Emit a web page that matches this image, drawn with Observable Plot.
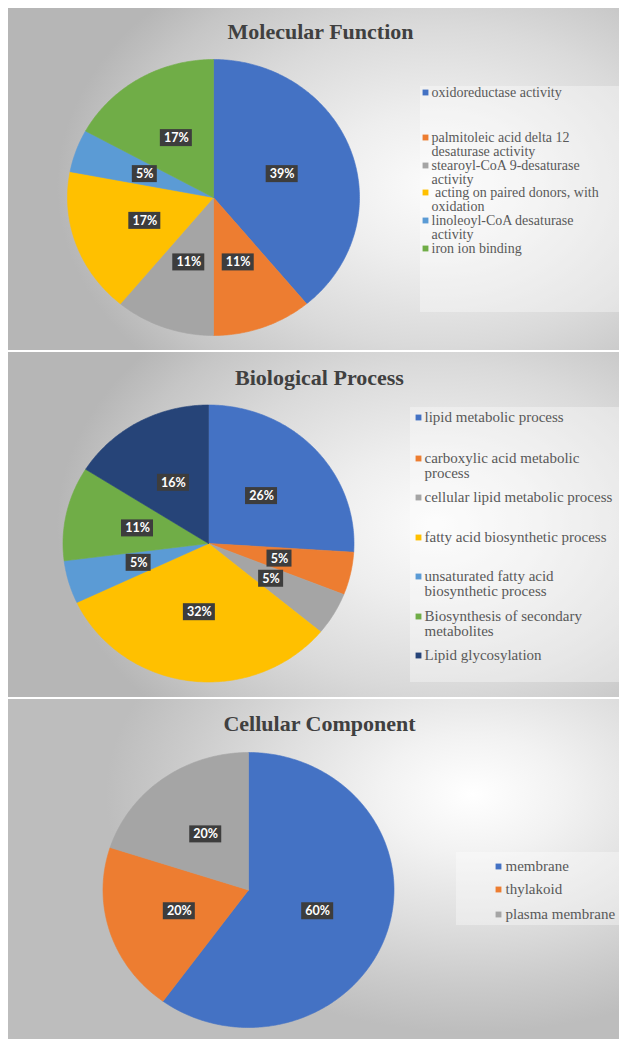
<!DOCTYPE html>
<html>
<head>
<meta charset="utf-8">
<script src="https://cdn.jsdelivr.net/npm/d3@7"></script>
<script src="https://cdn.jsdelivr.net/npm/@observablehq/plot@0.6"></script>
<style>
  html, body { margin: 0; padding: 0; background: #fff; }
  body { position: relative; width: 619px; height: 1039px; overflow: hidden; }
  .panel { position: absolute; left: 8px; width: 611px; overflow: hidden; }
  .panel svg { position: absolute; left: 0; top: 0; }
  #p1 { top: 8px; height: 342px;
    background: radial-gradient(ellipse 62% 78% at 70% 52%, #fbfbfb 0%, #eeeeee 28%, #dadada 60%, #c6c6c6 85%, #b6b6b6 100%); }
  #p2 { top: 352px; height: 345px;
    background: radial-gradient(ellipse 62% 78% at 70% 50%, #fbfbfb 0%, #eeeeee 28%, #dadada 60%, #c6c6c6 85%, #b6b6b6 100%); }
  #p3 { top: 699px; height: 340px;
    background: radial-gradient(ellipse 60% 70% at 76% 28%, #ffffff 0%, #f2f2f2 25%, #dedede 55%, #cbcbcb 80%, #bdbdbd 100%); }
</style>
</head>
<body>
<div id="p1" class="panel"></div>
<div id="p2" class="panel"></div>
<div id="p3" class="panel"></div>
<script>
// Molecular Function
const mfCategories = [
  "oxidoreductase activity",
  "palmitoleic acid delta 12 desaturase activity",
  "stearoyl-CoA 9-desaturase activity",
  "\u00a0acting on paired donors, with oxidation",
  "linoleoyl-CoA desaturase activity",
  "iron ion binding"
];
const mfValues = [39, 11, 11, 17, 5, 17];
const mfLegendLines = [
  ["oxidoreductase activity"],
  ["palmitoleic acid delta 12", "desaturase activity"],
  ["stearoyl-CoA 9-desaturase", "activity"],
  ["\u00a0acting on paired donors, with", "oxidation"],
  ["linoleoyl-CoA desaturase", "activity"],
  ["iron ion binding"]
];

// Biological Process
const bpCategories = [
  "lipid metabolic process",
  "carboxylic acid metabolic process",
  "cellular lipid metabolic process",
  "fatty acid biosynthetic process",
  "unsaturated fatty acid biosynthetic process",
  "Biosynthesis of secondary metabolites",
  "Lipid glycosylation"
];
const bpValues = [26, 5, 5, 32, 5, 11, 16];
const bpLegendLines = [
  ["lipid metabolic process"],
  ["carboxylic acid metabolic", "process"],
  ["cellular lipid metabolic process"],
  ["fatty acid biosynthetic process"],
  ["unsaturated fatty acid", "biosynthetic process"],
  ["Biosynthesis of secondary", "metabolites"],
  ["Lipid glycosylation"]
];

// Cellular Component
const ccCategories = ["membrane", "thylakoid", "plasma membrane"];
const ccValues = [60, 20, 20];
const ccLegendLines = [["membrane"], ["thylakoid"], ["plasma membrane"]];

// Office-style slice palette
const palette = ["#4472C4", "#ED7D31", "#A5A5A5", "#FFC000", "#5B9BD5", "#70AD47", "#264478"];

// Panel layout (pixels within each panel)
const panels = [
  { el: "#p1", title: "Molecular Function", categories: mfCategories, values: mfValues, legend: mfLegendLines,
    width: 611, height: 342, cx: 205, cy: 189, rx: 146, ry: 138,
    titleX: 312, titleY: 23,
    legendRows: [84, 129, 157, 184, 212, 240], lineStep: 13.7, legendFont: 14,
    squareX: 417, textX: 423, box: [412, 78, 611, 304] },
  { el: "#p2", title: "Biological Process", categories: bpCategories, values: bpValues, legend: bpLegendLines,
    width: 611, height: 345, cx: 200, cy: 191, rx: 145.5, ry: 138.5,
    titleX: 311, titleY: 25,
    legendRows: [65, 106, 145, 185, 224, 264, 303], lineStep: 15, legendFont: 15,
    squareX: 410, textX: 416, box: [402, 55, 611, 330] },
  { el: "#p3", title: "Cellular Component", categories: ccCategories, values: ccValues, legend: ccLegendLines,
    width: 611, height: 340, cx: 240, cy: 190.5, rx: 145.5, ry: 137.5,
    titleX: 311, titleY: 24,
    legendRows: [167, 190, 215], lineStep: 15, legendFont: 15,
    squareX: 490, textX: 497, box: [448, 153, 611, 226] }
];

function drawPanel(p) {
  const fx = (px) => (px - p.cx) / p.rx;   // panel pixel -> pie unit x
  const fy = (py) => (p.cy - py) / p.ry;   // panel pixel -> pie unit y

  const arcs = d3.pie().sort(null).startAngle(0).endAngle(2 * Math.PI)(p.values);

  // slice outlines as closed polygons in unit coordinates (0 rad = 12 o'clock, clockwise)
  const outline = [];
  arcs.forEach((a, i) => {
    const cat = p.categories[i];
    outline.push({ cat, x: 0, y: 0 });
    const n = Math.max(4, Math.ceil((a.endAngle - a.startAngle) / (Math.PI / 240)));
    for (let k = 0; k <= n; k++) {
      const t = a.startAngle + (a.endAngle - a.startAngle) * k / n;
      outline.push({ cat, x: Math.sin(t), y: Math.cos(t) });
    }
    outline.push({ cat, x: 0, y: 0 });
  });

  // data labels at half radius on each slice's mid angle
  const labels = arcs.map((a, i) => {
    const t = (a.startAngle + a.endAngle) / 2;
    return { cat: p.categories[i], text: `${p.values[i]}%`, x: 0.5 * Math.sin(t), y: 0.5 * Math.cos(t) };
  });

  // legend rows, one entry per text line
  const legendKeys = p.categories.map((cat, i) => ({ cat, x: fx(p.squareX), y: fy(p.legendRows[i]) }));
  const legendText = p.legend.flatMap((lines, i) =>
    lines.map((line, j) => ({ line, x: fx(p.textX), y: fy(p.legendRows[i] + j * p.lineStep) })));

  const box = [{ x1: fx(p.box[0]), x2: fx(p.box[2]), y1: fy(p.box[1]), y2: fy(p.box[3]) }];

  const labelH = 8.5;
  const svg = Plot.plot({
    width: p.width,
    height: p.height,
    margin: 0,
    style: { background: "transparent", overflow: "visible" },
    x: { domain: [-1, 1], range: [p.cx - p.rx, p.cx + p.rx], axis: null },
    y: { domain: [-1, 1], range: [p.cy + p.ry, p.cy - p.ry], axis: null },
    color: { domain: p.categories, range: palette.slice(0, p.categories.length) },
    marks: [
      Plot.rect(box, { x1: "x1", x2: "x2", y1: "y1", y2: "y2", fill: "#ffffff", fillOpacity: 0.35 }),
      Plot.line(outline, { x: "x", y: "y", z: "cat", fill: "#000", fillOpacity: 0.28, stroke: "none", ariaLabel: "pie-shadow" }),
      Plot.line(outline, { x: "x", y: "y", z: "cat", fill: "cat", stroke: "cat", strokeWidth: 0.6 }),
      Plot.rect(labels.filter(d => d.text.length > 2), {
        x1: "x", x2: "x", y1: "y", y2: "y", fill: "#3d3d3d",
        insetLeft: -16, insetRight: -16, insetTop: -labelH, insetBottom: -labelH, ariaLabel: "label-box"
      }),
      Plot.rect(labels.filter(d => d.text.length <= 2), {
        x1: "x", x2: "x", y1: "y", y2: "y", fill: "#3d3d3d",
        insetLeft: -12.5, insetRight: -12.5, insetTop: -labelH, insetBottom: -labelH, ariaLabel: "label-box"
      }),
      Plot.text(labels, {
        x: "x", y: "y", text: "text", fill: "#ffffff", fontSize: 12.5, fontWeight: "bold",
        fontFamily: "Lato, 'Open Sans', sans-serif"
      }),
      Plot.dot(legendKeys, { x: "x", y: "y", fill: "cat", symbol: "square", r: 3.3, stroke: "none" }),
      Plot.text(legendText, {
        x: "x", y: "y", text: "line", textAnchor: "start", fill: "#595959",
        fontSize: p.legendFont, fontFamily: "'Liberation Serif', 'Times New Roman', serif"
      }),
      Plot.text([p.title], {
        x: fx(p.titleX), y: fy(p.titleY), text: (d) => d, fill: "#404040",
        fontSize: 22, fontWeight: "bold", fontFamily: "'Liberation Serif', 'Times New Roman', serif"
      })
    ]
  });

  // soft shadow under the pie and behind the value labels
  const root = d3.select(svg);
  const defs = root.insert("defs", ":first-child");
  defs.append("filter").attr("id", `blur-${p.el.slice(1)}`)
    .attr("x", "-20%").attr("y", "-20%").attr("width", "140%").attr("height", "140%")
    .append("feGaussianBlur").attr("stdDeviation", 5);
  const drop = defs.append("filter").attr("id", `drop-${p.el.slice(1)}`)
    .attr("x", "-30%").attr("y", "-30%").attr("width", "160%").attr("height", "160%");
  drop.append("feDropShadow").attr("dx", 1.5).attr("dy", 1.5).attr("stdDeviation", 1.2)
    .attr("flood-color", "#000").attr("flood-opacity", 0.45);
  root.selectAll('[aria-label="pie-shadow"]').attr("filter", `url(#blur-${p.el.slice(1)})`);
  root.selectAll('[aria-label="label-box"]').attr("filter", `url(#drop-${p.el.slice(1)})`);

  document.querySelector(p.el).appendChild(svg);
}

panels.forEach(drawPanel);
</script>
</body>
</html>
